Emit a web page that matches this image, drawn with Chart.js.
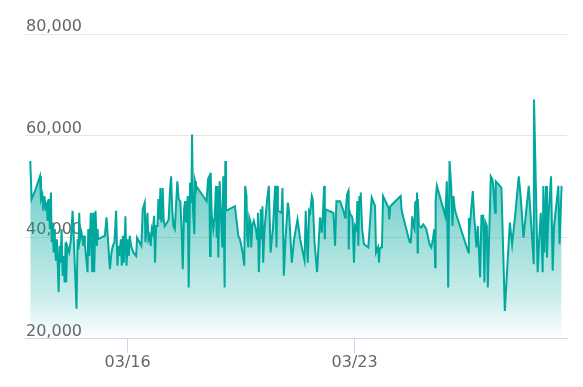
<!DOCTYPE html>
<html lang="en">
<head>
  <meta charset="UTF-8">
  <title>Price chart</title>
  <script src="https://cdn.jsdelivr.net/npm/chart.js"></script>
  <style>
    html, body { margin: 0; padding: 0; background: #fff; }
    #wrap { width: 583px; height: 387px; position: relative; }
  </style>
</head>
<body>
  <div id="wrap"><canvas id="priceChart"></canvas></div>

  <script>
    // hours since 03/13 00:00
    const hours = [
      0, 1.0, 3.5, 7.2, 7.9, 8.9, 9.6, 10.4, 11.4, 12.3, 12.8, 13.8, 14.5, 15.3, 15.8, 16.5, 17.3, 17.7, 18.2, 19.0,
      19.7, 21.0, 21.7, 22.4, 23.2, 23.9, 24.6, 25.4, 26.1, 26.6, 27.3, 28.8, 30.1, 31.3, 32.0, 34.2, 35.0, 35.7, 36.2, 36.9,
      37.9, 38.7, 39.2, 39.9, 40.4, 42.4, 42.9, 43.6, 44.8, 45.8, 46.5, 47.0, 47.3, 48.3, 49.0, 49.3, 49.8, 50.2, 55.2, 56.4,
      58.9, 60.1, 61.1, 62.3, 63.5, 64.5, 65.3, 66.0, 67.0, 67.7, 68.5, 69.2, 70.4, 71.2, 72.2, 72.9, 73.6, 74.6, 76.3, 78.3,
      79.0, 80.8, 82.2, 83.2, 84.7, 85.2, 85.9, 86.7, 87.4, 88.2, 89.1, 89.9, 90.6, 91.6, 92.3, 93.1, 94.1, 94.8, 95.5, 96.3,
      97.0, 97.5, 98.0, 98.7, 99.5, 101.2, 102.4, 103.4, 104.2, 104.9, 105.9, 106.9, 107.8, 108.8, 109.8, 111.0, 112.0, 112.8, 113.8, 114.5,
      115.2, 116.5, 117.2, 118.2, 119.2, 119.7, 120.4, 121.4, 121.9, 122.6, 126.1, 130.5, 131.5, 132.5, 133.0, 133.5, 134.2, 135.4, 136.4, 137.4,
      137.9, 138.4, 139.1, 140.1, 141.3, 142.1, 142.8, 143.8, 144.3, 144.8, 151.4, 153.9, 155.1, 155.6, 157.1, 158.3, 159.0, 160.0, 160.5, 161.3,
      162.0, 163.0, 163.5, 164.2, 165.4, 166.9, 167.9, 168.4, 169.1, 169.9, 170.6, 171.4, 171.8, 172.3, 173.3, 174.6, 175.3, 176.5, 177.8, 178.5,
      179.5, 181.2, 182.2, 182.7, 183.2, 185.9, 186.6, 187.6, 188.8, 190.6, 191.5, 193.5, 195.2, 197.7, 199.7, 201.4, 202.9, 203.8, 204.6, 205.3,
      206.3, 207.1, 208.3, 209.0, 210.3, 212.2, 214.4, 215.7, 216.7, 217.4, 217.9, 218.4, 224.3, 225.5, 226.5, 229.2, 231.7, 232.9, 233.4, 234.4,
      235.4, 235.6, 236.1, 236.8, 237.8, 238.5, 239.5, 240.3, 241.3, 242.0, 242.7, 243.5, 244.0, 244.5, 245.5, 246.9, 250.1, 252.6, 255.1, 255.8,
      257.3, 258.0, 258.5, 259.5, 260.2, 261.0, 265.1, 265.6, 266.4, 274.0, 274.7, 275.7, 280.7, 281.6, 282.6, 283.6, 284.3, 284.8, 285.6, 286.1,
      286.6, 286.8, 287.5, 289.3, 290.7, 291.7, 293.0, 295.4, 296.7, 297.9, 298.9, 299.6, 299.9, 300.8, 304.0, 307.0, 308.2, 309.2, 310.2, 311.4,
      312.4, 313.1, 314.1, 315.1, 321.0, 324.2, 324.5, 325.2, 327.4, 328.4, 330.1, 331.1, 332.8, 333.8, 335.1, 336.0, 336.8, 337.8, 338.5, 340.7,
      341.9, 342.7, 343.9, 344.4, 346.4, 348.6, 351.1, 354.8, 356.5, 358.7, 361.4, 362.9, 364.9, 368.8, 372.5, 372.7, 375.4, 376.4, 377.7, 379.1,
      379.6, 380.4, 381.6, 382.3, 383.1, 385.3, 386.5, 387.5, 390.7, 391.6, 393.1
    ];

    const prices = [
      55000, 47500, 49100, 52000, 47500, 48400, 45200, 48100, 45800, 46500, 43200, 47500, 41600, 48800, 39000, 42900, 37000, 41600, 38300, 35400,
      39600, 29200, 38300, 35000, 41600, 32400, 36300, 31100, 39000, 31100, 38300, 37000, 39600, 45200, 40900, 25900, 39600, 37600, 44800, 39600,
      40900, 39600, 38300, 40300, 38600, 33100, 41600, 36300, 44800, 33100, 44800, 40300, 33100, 45200, 39600, 38300, 41600, 39600, 40300, 43900,
      33700, 37000, 38300, 39000, 45200, 34400, 38300, 36300, 39600, 34400, 40300, 35000, 44100, 34400, 39600, 36300, 40300, 38300, 37000, 36300,
      39900, 39000, 38300, 45500, 46800, 39000, 41600, 44800, 39600, 40300, 38300, 41600, 40900, 44200, 35000, 42200, 42200, 47500, 43500, 49700,
      42900, 46100, 49700, 43500, 42200, 42900, 43500, 49400, 52000, 46100, 42200, 41600, 46100, 51000, 47500, 47100, 41600, 33700, 45500, 47100,
      42900, 48100, 30100, 50700, 46800, 60200, 45500, 40600, 51000, 50100, 48800, 47100, 51400, 52000, 36300, 52700, 44800, 41600, 43900, 50100,
      39900, 50100, 36000, 51000, 42900, 38000, 52000, 30100, 55000, 45200, 46100, 40300, 39600, 39000, 37000, 34400, 50100, 48100, 40300, 38000,
      43900, 42900, 38000, 42200, 43200, 41600, 39600, 44800, 33100, 39600, 45500, 39600, 46100, 35000, 41600, 45500, 47500, 50100, 37000, 39000,
      41600, 50100, 38000, 50100, 45200, 44800, 49700, 32400, 39600, 46800, 44800, 35000, 39600, 43500, 39600, 37300, 35400, 45200, 39600, 35000,
      45200, 44800, 48100, 47500, 39000, 33100, 43900, 40900, 45500, 50100, 39600, 45500, 44800, 38300, 47100, 47100, 45200, 43900, 45200, 48400,
      49100, 37600, 45200, 44500, 44200, 43500, 35000, 42200, 41600, 47100, 38300, 48100, 46800, 48800, 41600, 38600, 38000, 47800, 46100, 37000,
      38000, 35000, 37600, 38000, 38300, 48100, 45800, 43500, 46100, 48100, 45500, 44200, 39000, 39000, 44100, 42200, 41600, 46800, 47100, 48800,
      37000, 47500, 42200, 41900, 42500, 42200, 41600, 38600, 38000, 39600, 41600, 34100, 47100, 50100, 47100, 44200, 51000, 30100, 55000, 50100,
      42200, 48100, 45500, 44500, 39600, 37000, 43800, 42200, 49100, 44200, 38000, 42200, 32100, 44200, 44200, 31100, 42900, 42200, 30100, 52000,
      51400, 49700, 44800, 51000, 50400, 49700, 25500, 42900, 38600, 44200, 52000, 47800, 39900, 50100, 34700, 67100, 33100, 38900, 44800, 33100,
      50100, 37000, 50100, 36000, 42900, 52000, 33400, 42200, 50100, 38600, 50100
    ];

    const tickHours = [72, 240];
    const tickLabels = ["03/16", "03/23"];
    const yTicks = [20000, 40000, 60000, 80000];

    const points = hours.map((h, i) => ({ x: h, y: prices[i] }));

    function areaGradient(context) {
      const area = context.chart.chartArea;
      if (!area) return "rgba(0,168,158,0.4)";
      const g = context.chart.ctx.createLinearGradient(0, area.top, 0, area.bottom);
      g.addColorStop(0, "rgba(0,168,158,0.85)");
      g.addColorStop(0.22, "rgba(0,168,158,0.72)");
      g.addColorStop(0.54, "rgba(0,168,158,0.5)");
      g.addColorStop(0.87, "rgba(0,168,158,0.2)");
      g.addColorStop(1, "rgba(0,168,158,0.0)");
      return g;
    }

    Chart.defaults.font.family = "'DejaVu Sans', sans-serif";

    new Chart(document.getElementById("priceChart"), {
      type: "line",
      data: {
        datasets: [{
          data: points,
          borderColor: "#00a89e",
          borderWidth: 2,
          backgroundColor: areaGradient,
          fill: "start",
          tension: 0,
          pointRadius: 0
        }]
      },
      options: {
        responsive: true,
        maintainAspectRatio: false,
        animation: false,
        layout: { padding: { left: 23, right: 16, top: 34, bottom: 15 } },
        plugins: { legend: { display: false }, tooltip: { enabled: false } },
        scales: {
          x: {
            type: "linear",
            min: -3.9,
            max: 397.1,
            afterBuildTicks: (scale) => { scale.ticks = tickHours.map(v => ({ value: v })); },
            ticks: {
              color: "#666",
              font: { size: 16 },
              padding: 0,
              maxRotation: 0,
              autoSkip: false,
              callback: (v) => tickLabels[tickHours.indexOf(v)]
            },
            grid: { drawOnChartArea: false, drawTicks: true, tickLength: 14, color: "#ccd6eb" },
            border: { color: "#ccd6eb", width: 1 }
          },
          y: {
            min: 20000,
            max: 80000,
            afterBuildTicks: (scale) => { scale.ticks = yTicks.map(v => ({ value: v })); },
            ticks: {
              mirror: true,
              padding: 1,
              labelOffset: -7,
              color: "#666",
              font: { size: 16 },
              callback: (v) => v.toLocaleString("en-US")
            },
            grid: {
              drawTicks: false,
              color: (c) => c.tick && c.tick.value === 20000 ? "#ccd6eb" : "#e6e6e6"
            },
            border: { display: false }
          }
        }
      }
    });
  </script>
</body>
</html>
